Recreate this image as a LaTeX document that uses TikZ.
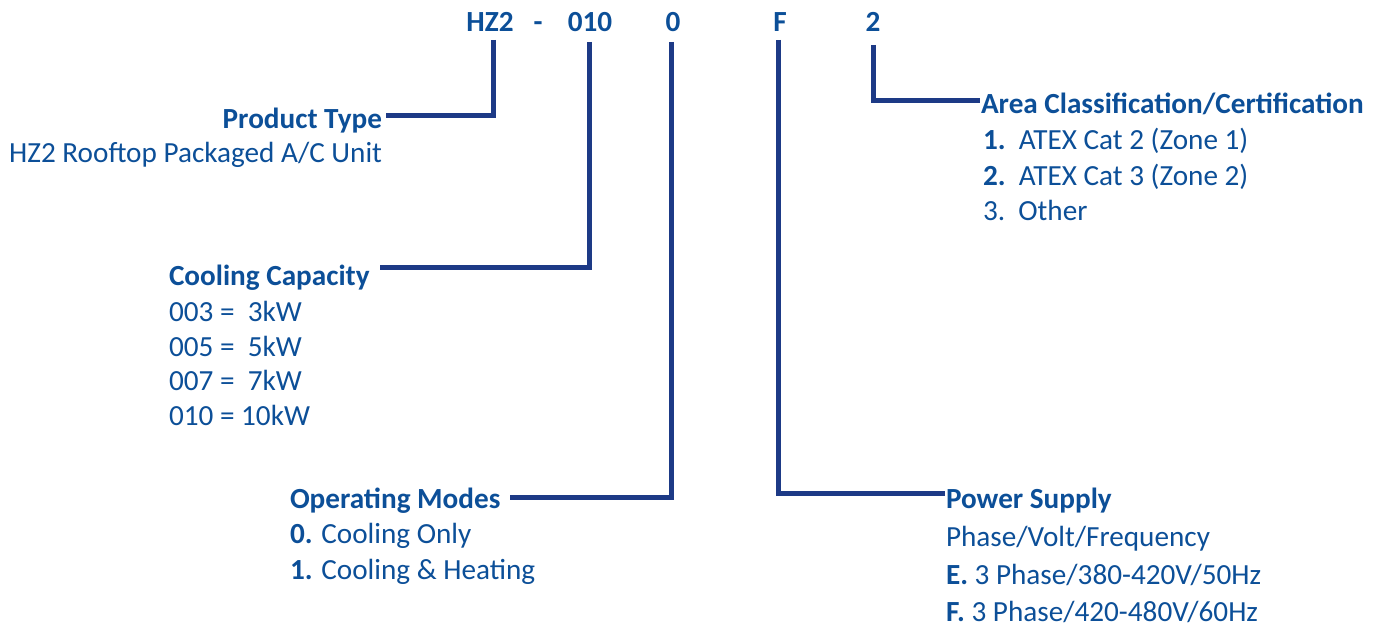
\documentclass[tikz,border=0pt]{standalone}
\usepackage{fontspec}
\setmainfont{Carlito}
\definecolor{txtblue}{HTML}{0C4F98}
\definecolor{lineblue}{HTML}{1D3A86}
\newcommand{\fsz}{\fontsize{29.2}{33}\selectfont}
\begin{document}
\begin{tikzpicture}[x=1pt,y=-1pt,
  every node/.style={inner sep=0pt,outer sep=0pt,text=txtblue,font=\fsz},
  code/.style={anchor=base,font=\fsz\bfseries},
  head/.style={anchor=base west,font=\fsz\bfseries},
  item/.style={anchor=base west},
  conn/.style={draw=lineblue,line width=5pt,line cap=butt,line join=miter}]
\useasboundingbox (0,0) rectangle (1381,628);
% code letters
\node[code] (cHZ) at (490,32) {HZ2};
\node[code] (cdash) at (538,32) {-};
\node[code] (c010) at (590,32) {010};
\node[code] (c0) at (673,32) {0};
\node[code] (cF) at (780,32) {F};
\node[code] (c2) at (873,32) {2};
% product type
\node[anchor=base east,font=\fsz\bfseries] (pt) at (382,129) {Product Type};
\node[anchor=base east] (pt1) at (382,163) {HZ2 Rooftop Packaged A/C Unit};
% cooling capacity
\node[head] (cc) at (169,286) {Cooling Capacity};
\node[item] (cc1) at (169,321) {003 =\ \ 3kW};
\node[item] (cc2) at (169,356) {005 =\ \ 5kW};
\node[item] (cc3) at (169,390) {007 =\ \ 7kW};
\node[item] (cc4) at (169,425) {010 = 10kW};
% operating modes
\node[head] (om) at (290,508) {Operating Modes};
\node[item] (om1) at (290,543) {\textbf{0.} Cooling Only};
\node[item] (om2) at (290,579) {\textbf{1.} Cooling \& Heating};
% power supply
\node[head] (ps) at (946,508) {Power Supply};
\node[item] (ps0) at (946,546) {Phase/Volt/Frequency};
\node[item] (ps1) at (946,584) {\textbf{E.} 3 Phase/380-420V/50Hz};
\node[item] (ps2) at (946,621) {\textbf{F.} 3 Phase/420-480V/60Hz};
% area classification
\node[head] (ac) at (981,114) {Area Classification/Certification};
\node[item] (ac1) at (983,150) {\textbf{1.}\ \ ATEX Cat 2 (Zone 1)};
\node[item] (ac2) at (983,186) {\textbf{2.}\ \ ATEX Cat 3 (Zone 2)};
\node[item] (ac3) at (983,221) {3.\ \ Other};
% connector corners
\coordinate (hzTop) at (493,40);
\coordinate (hzCor) at (493,116);
\coordinate (hzEnd) at (386,116);
\coordinate (ccTop) at (589,42);
\coordinate (ccCor) at (589,268);
\coordinate (ccEnd) at (380,268);
\coordinate (omTop) at (671,42);
\coordinate (omCor) at (671,497);
\coordinate (omEnd) at (510,497);
\coordinate (psTop) at (778,40);
\coordinate (psCor) at (778,493);
\coordinate (psEnd) at (945,493);
\coordinate (acTop) at (873,45);
\coordinate (acCor) at (873,101);
\coordinate (acEnd) at (980,101);
\draw[conn] (hzTop) -- (hzCor) -- (hzEnd);
\draw[conn] (ccTop) -- (ccCor) -- (ccEnd);
\draw[conn] (omTop) -- (omCor) -- (omEnd);
\draw[conn] (psTop) -- (psCor) -- (psEnd);
\draw[conn] (acTop) -- (acCor) -- (acEnd);
\end{tikzpicture}
\end{document}
